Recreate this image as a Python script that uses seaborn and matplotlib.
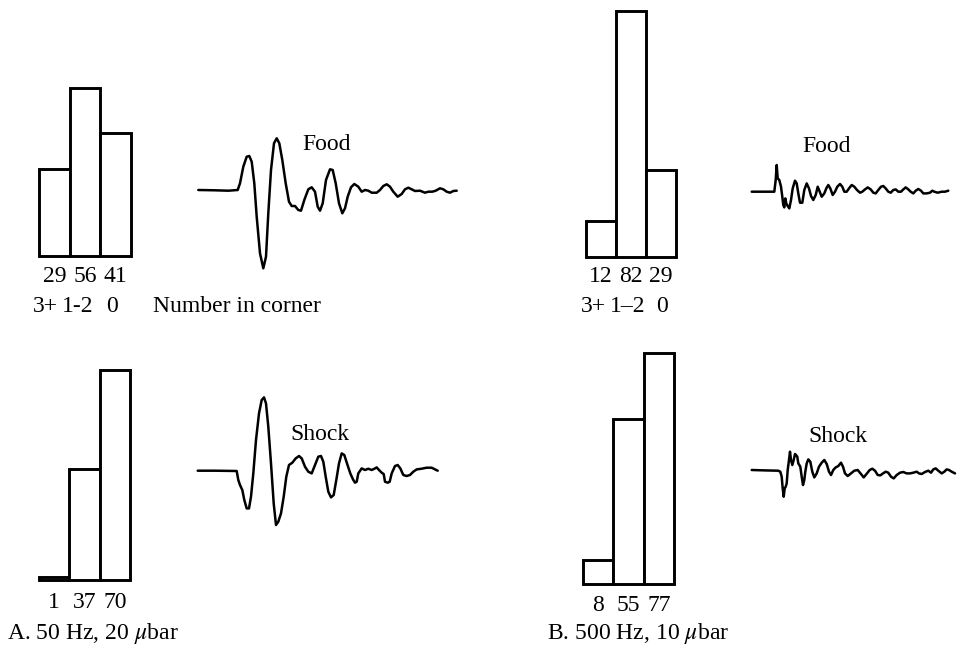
import numpy as np
import pandas as pd
import matplotlib
matplotlib.use("Agg")
import matplotlib.pyplot as plt
import seaborn as sns

# ---------------------------------------------------------------- data
corner_groups = ["3+", "1-2", "0"]

food_50hz = [29, 56, 41]
shock_50hz = [1, 37, 70]
food_500hz = [12, 82, 29]
shock_500hz = [8, 55, 77]

# Vibration traces: time (arbitrary units) and amplitude (arbitrary units, + = up)
food_50hz_t = [3.3, 20, 33.3, 42.7, 45, 48.3, 51.7, 54.3, 56.7, 59.3, 61.7, 65, 68.3, 71,
               73.3, 76, 79, 81.7, 84.3, 87.3, 90.7, 94, 96.7, 100, 103.3, 106, 109.3,
               113.3, 116.7, 120, 122.7, 125, 127.7, 131, 135, 137.7, 140.7, 144, 147.3,
               150, 152.7, 156, 159.3, 163.3, 166.7, 170, 173.3, 176.7, 181.7, 185, 188.3,
               191.7, 195, 198.3, 202.7, 206.7, 210, 213.3, 216.7, 220, 225, 230, 233.3,
               237.3, 240.7, 245, 248.3, 251.7, 255, 258.3, 261.7]
food_50hz_a = [0, -0.3, -0.7, 0, 6.7, 23.3, 33.3, 34, 28.3, 6.7, -26.7, -63.3, -78.3, -66.7,
               -23.3, 20, 46.7, 51.7, 46.7, 30, 6.7, -11.7, -16, -16, -20, -20.7, -10,
               0.7, 2.7, -1.7, -16.7, -20.7, -13.3, 10, 20.7, 20, 6.7, -13.3, -23.3,
               -18.3, -6.7, 2.7, 6, 3.3, -1.7, 0, -0.7, -2.7, -2.7, 0, 4,
               5.7, 3.3, -1.7, -6.7, -4, 0.7, 2.3, 0.7, -1, -0.7, -2.7, -1.7,
               -1.7, -0.7, 1.7, 0.7, -1.7, -2.7, -1, -0.7]

shock_50hz_t = [2.7, 20, 41.7, 43.3, 45, 47.3, 49.3, 51.7, 54, 56, 58.3, 61, 64, 66.7, 69,
                71, 73.3, 76, 78.7, 81, 83.3, 86, 88.7, 91.3, 94, 97.3, 100.7, 104, 106.7,
                110, 113.3, 116.7, 120, 123.3, 126, 128.3, 130.7, 133.3, 136, 138.7, 141.3,
                144, 146.7, 149.3, 152, 155.3, 158, 160, 161.7, 163.3, 166.7, 170, 173.3,
                176.7, 180, 181.7, 184, 186.7, 188.7, 190, 192.7, 194.7, 196.7, 200, 202.7,
                205.3, 208.3, 211.7, 215, 218.3, 221.7, 226.7, 231.7, 236.7, 240, 242.7]
shock_50hz_a = [0, 0, -0.3, -9.3, -14.3, -19.3, -29.3, -37.7, -37.7, -26, -2.7, 30.7, 57.3,
                70.7, 73.3, 67.3, 44, 7.3, -32.7, -54.3, -51, -42.7, -26, -6, 5.7, 8, 12.3,
                14.7, 12.3, 4, -1, -2.7, 5.7, 14, 14.7, 9, -6, -21, -26.7, -24.3, -9.3,
                7.3, 17.3, 15.7, 7.3, -2.7, -8.7, -12, -11, -2.7, 2.3, 0.7, 2,
                0.7, 2.3, 3.3, 0.7, -2, -3.3, -11, -12, -11, -2.7, 4.7, 5.7,
                2.3, -4.3, -5.3, -4.3, -1, 1.3, 2, 3, 3, 1.3, 0]

food_500hz_t = [6.7, 20, 29.3, 30.7, 31.7, 32.7, 34.3, 36, 37.3, 38.3, 39.3, 40.3, 41.3, 42.7,
                44.3, 46, 47.7, 50, 51.7, 53.3, 55, 57.3, 59.3, 61.7, 64, 66, 68.3, 70.7,
                72.7, 74.7, 76.7, 79.3, 81.3, 83.3, 85.3, 87.7, 90, 92.3, 95, 97.3, 99.3,
                101.7, 104, 106.7, 109.3, 112, 115, 117.3, 120, 122.7, 125.7, 128.3, 130.7,
                133.3, 136, 138.3, 140.7, 143.3, 145.7, 148.3, 150.7, 153.3, 156, 158.3,
                160.7, 163.3, 165.7, 168.3, 170.7, 173.3, 176, 178.3, 181.7, 185, 187.3,
                189.3, 192.7, 196.7, 200, 203.3]
food_500hz_a = [0, 0, 0, 11.7, 26.7, 13.3, 11.7, 5, -5, -13.3, -15.7, -6.7, -11.7, -14.3,
                -16.7, -8.3, 3.3, 11, 8.3, -1.7, -11, -11, 1.7, 8.3, 3.3, -4.3, -8.3, -3.3,
                5, 0, -5, -1.7, 3.3, 6.7, 3.3, -3.3, 0, 5, 7.7, 5, 0,
                0, 3.3, 6.7, 5, 1.7, -1, 0, 2.3, 4.3, 2.3, -1, -1.7,
                1.7, 5, 5.7, 3.3, 0, -1, 1.7, 2.3, 0, 0, 2.3,
                4.3, 2.3, 0, -1.7, 1, 2.7, 1, -1.7, -1.7, -1, 1,
                0, -1, 0, 0, 1]

shock_500hz_t = [6.7, 20, 33.3, 35.3, 36.7, 37.7, 38.7, 39.7, 40.7, 41.7, 42.7, 44, 45, 46,
                 47.3, 48.7, 50, 51, 52.3, 53.3, 54.3, 55.3, 56.7, 58, 59.3, 60.3, 61.7,
                 63.3, 65.3, 67.3, 69.3, 71.7, 74, 76.7, 79.3, 81.7, 84, 86, 88.3, 90.7,
                 93.3, 96, 98, 100, 102.7, 106, 109.3, 112.7, 116, 118.7, 122, 124.7, 127.3,
                 130, 132.7, 135.3, 138, 140.7, 143.3, 146, 148.7, 151.7, 155, 158.3, 161.7,
                 165, 168.3, 171.7, 174, 176.7, 180, 183.3, 186, 188.3, 190.7, 193.3, 196.7,
                 199.3, 201.7, 204, 206.7, 210]
shock_500hz_a = [0.7, 0.3, 0, -1, -6, -17.7, -26, -17.7, -16, -12.7, 0.7, 10.7, 19, 10.7,
                 5.7, 10.7, 16.7, 15.7, 14, 7.3, 5.7, 4, -6, -14.3, -9.3, -1, 7.3,
                 11.3, 9, -1, -6.7, -2.7, 4, 8, 10.7, 6.7, -1, -4.3, 0.7, 3.3,
                 4.7, 8, 4, -2.7, -5.3, -2.7, 0, 0.7, -3.3, -6.7, -2.7, 0.7, 2,
                 0, -4.3, -4.7, -2.7, -1, -2, -6, -7.7, -4.3, -2, -1.3, -2.7,
                 -2.7, -2, -1, -2.7, -3.3, -1.3, 0, -2, 1.3, 2.3, 0, -2.7,
                 -1, 1.3, 0.7, -1, -2.7]

# ---------------------------------------------------------------- style
sns.set_style("white")
plt.rcParams["font.family"] = ["Liberation Serif", "DejaVu Serif"]
plt.rcParams["mathtext.fontset"] = "stix"

W, H = 959, 647
FS = 17
PX_PER_COUNT = 3.0

fig = plt.figure(figsize=(W / 100, H / 100), dpi=100)
fig.patch.set_facecolor("white")


def px_axes(left, top, width, height):
    """Add an axes given in figure pixels measured from the top-left corner."""
    return fig.add_axes([left / W, 1 - (top + height) / H, width / W, height / H])


def fig_text(x, y, s, **kw):
    fig.text(x / W, 1 - y / H, s, fontsize=FS, color="black", **kw)


def bar_panel(left, width, baseline, counts, pad):
    ymax = 84
    ax = px_axes(left, baseline - ymax * PX_PER_COUNT, width, ymax * PX_PER_COUNT)
    df = pd.DataFrame({"group": corner_groups, "count": counts})
    sns.barplot(data=df, x="group", y="count", order=corner_groups, ax=ax,
                width=1.0, color="white", saturation=1, edgecolor="black",
                linewidth=2.1)
    for p in ax.patches:
        p.set_clip_on(False)
        p.set_joinstyle("miter")
    ax.set_xlim(-0.5, 2.5)
    ax.set_ylim(0, ymax)
    ax.set_xticks(range(len(counts)), labels=[str(c) for c in counts])
    ax.tick_params(axis="x", length=0, pad=pad, labelsize=FS, colors="black")
    ax.set_yticks([])
    ax.set_xlabel("")
    ax.set_ylabel("")
    for s in ax.spines.values():
        s.set_visible(False)
    ax.patch.set_alpha(0)
    return ax


def trace_panel(left, baseline, t, a):
    top_room, bottom_room, span = 80, 90, 270
    ax = px_axes(left, baseline - top_room, span, top_room + bottom_room)
    sns.lineplot(x=t, y=a, sort=False, estimator=None, ax=ax, color="black",
                 linewidth=1.8)
    for ln in ax.lines:
        ln.set_clip_on(False)
        ln.set_solid_joinstyle("round")
    ax.set_xlim(0, span)
    ax.set_ylim(-bottom_room, top_room)
    ax.axis("off")
    return ax


# ---------------------------------------------------------------- histograms
bar_panel(39, 92, 256, food_50hz, pad=7)
bar_panel(586, 90, 257, food_500hz, pad=6.5)
bar_panel(39, 91, 580, shock_50hz, pad=9)
bar_panel(583, 91, 584, shock_500hz, pad=8)

# ---------------------------------------------------------------- traces
trace_panel(195, 190, food_50hz_t, food_50hz_a)
trace_panel(195, 470.7, shock_50hz_t, shock_50hz_a)
trace_panel(745, 191.7, food_500hz_t, food_500hz_a)
trace_panel(745, 470.7, shock_500hz_t, shock_500hz_a)

# ---------------------------------------------------------------- labels
fig_text(302, 150, "Food", va="baseline")
fig_text(802, 152, "Food", va="baseline")
fig_text(290, 440, "Shock", va="baseline")
fig_text(808, 442, "Shock", va="baseline")

# corner-count group names under the upper histograms
for cx, s in zip([45, 78, 112], ["3+", "1-2", "0"]):
    fig_text(cx, 312, s, ha="center", va="baseline")
for cx, s in zip([593, 628, 662], ["3+", "1\u20132", "0"]):
    fig_text(cx, 312, s, ha="center", va="baseline")
fig_text(153, 312, "Number in corner", va="baseline")

fig_text(7, 639, r"A. 50 Hz, 20 $\mu$bar", va="baseline")
fig_text(547, 639, r"B. 500 Hz, 10 $\mu$bar", va="baseline")

fig.savefig("out.png", dpi=100, facecolor="white")
